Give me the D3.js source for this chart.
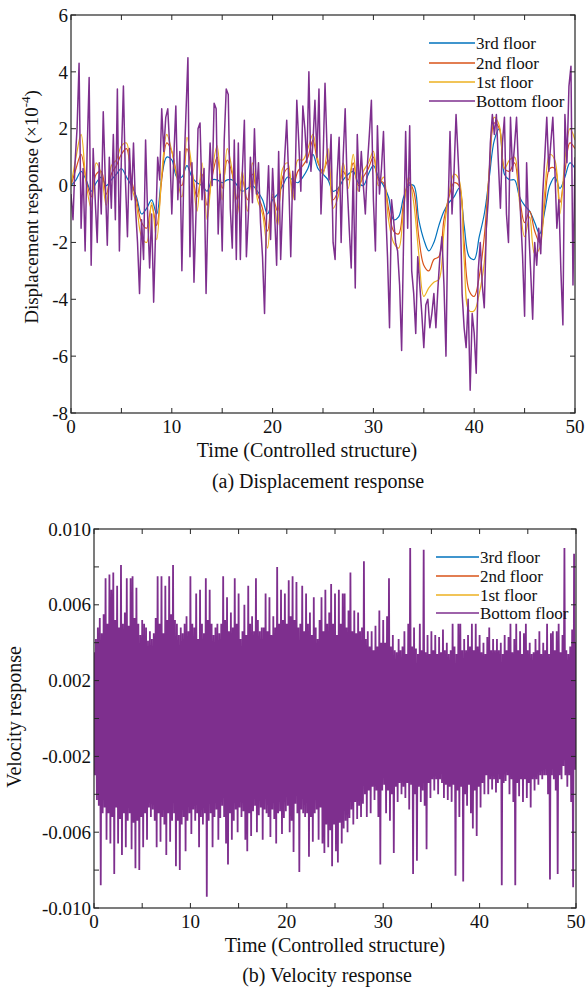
<!DOCTYPE html>
<html>
<head>
<meta charset="utf-8">
<script src="https://cdn.jsdelivr.net/npm/d3@7"></script>
<style>
  body { margin: 0; background: #fff; }
  svg { display: block; font-family: "Liberation Serif", "Times New Roman", serif; }
</style>
</head>
<body>
<svg id="fig" width="586" height="989"></svg>
<script>
// floors, legend order
var floorNames = ['3rd floor', '2nd floor', '1st floor', 'Bottom floor']
var floorColors = ['#0072BD', '#D95319', '#EDB120', '#7E2F8E']

// displacement, x1e-4, smooth floors sampled every 0.5 s
var disp3rd = [0.0,0.2,0.5,0.2,-0.2,0.1,0.3,0.0,0.2,0.4,0.6,0.3,0.0,-0.4,-1.0,-0.8,-0.5,-1.0,0.3,1.0,
  0.9,0.3,0.3,0.7,0.3,0.1,0.0,-0.2,0.2,0.2,0.1,0.2,0.2,0.0,-0.2,-0.1,0.0,-0.2,-0.5,-1.0,
  -0.5,-0.3,0.0,0.3,0.2,0.1,0.3,0.6,1.1,0.6,0.4,0.2,-0.2,-0.1,0.2,0.4,0.5,0.1,0.0,0.4,
  0.7,0.3,0.0,-0.4,-1.2,-1.1,-0.4,0.0,0.0,-1.2,-1.9,-2.3,-2.0,-1.4,-0.9,-0.6,-0.4,-0.1,-1.4,-2.5,
  -2.6,-1.8,-1.0,0.3,1.6,2.0,0.4,0.2,0.2,-0.4,-0.7,-0.9,-1.3,-1.7,-0.9,0.0,0.3,-0.1,0.3,0.8,0.6]
var disp2nd = [0.0,0.6,1.1,0.2,-0.4,0.4,0.5,-0.3,0.4,0.7,1.1,1.3,0.2,-0.5,-1.3,-1.5,-0.7,-1.4,0.2,1.5,
  1.2,0.4,0.0,1.3,0.5,-0.4,0.4,-0.7,0.3,1.0,-0.1,0.9,0.4,-0.5,0.2,-0.5,0.4,-0.3,-0.8,-1.6,
  -0.4,-0.9,0.3,0.6,-0.1,0.5,0.7,1.0,1.6,0.8,0.5,0.9,-0.5,-0.2,0.5,0.2,0.8,0.0,0.3,0.6,
  1.0,0.2,0.1,-0.8,-1.6,-1.7,-0.6,0.1,-0.2,-1.8,-2.8,-3.0,-2.6,-2.5,-1.2,-0.4,0.1,0.0,-2.0,-3.7,
  -3.9,-3.2,-1.8,0.5,2.2,2.0,0.6,0.5,0.8,-0.4,-1.3,-0.9,-1.6,-2.0,-0.6,0.6,0.6,-0.6,0.5,1.5,1.3]
var disp1st = [0.0,1.0,1.8,0.1,-0.8,0.8,0.4,-0.7,0.7,0.9,1.4,1.5,0.0,-0.7,-1.8,-2.0,-0.6,-1.9,0.4,1.8,
  1.2,0.3,-0.4,1.7,0.6,-0.9,0.8,-1.2,0.5,1.4,-0.5,1.3,0.5,-1.0,0.5,-0.9,0.8,-0.5,-1.0,-2.2,
  -0.3,-1.4,0.6,0.8,-0.5,0.9,0.9,1.3,1.8,0.9,0.4,1.3,-0.8,-0.4,0.8,-0.1,1.1,-0.2,0.5,0.8,
  1.2,0.0,0.3,-1.2,-2.0,-2.2,-0.8,0.3,-0.6,-2.4,-3.9,-3.6,-3.4,-3.3,-1.6,-0.3,0.4,0.2,-2.6,-4.4,
  -4.4,-3.8,-2.7,0.6,2.4,2.1,0.6,0.9,1.0,-0.6,-1.8,-1.1,-2.4,-2.2,-0.2,1.1,0.9,-1.0,0.9,2.0,1.6]

// bottom floor displacement, sampled every 0.2 s
var dispBottom = [
  -0.3,-1.2,0.8,2.0,4.3,-1.5,0.6,-2.3,1.2,3.8,     // 0 - 1.8
  -2.8,1.3,-0.5,-2.0,0.8,-1.0,2.6,0.2,-2.1,1.0,    // 2 - 3.8
  -0.8,1.8,-1.2,3.4,-2.3,1.0,3.5,0.2,-1.8,1.3,     // 4 - 5.8
  -0.5,1.5,-0.8,-2.0,-3.8,-1.2,-2.6,1.6,-1.0,-2.9, // 6 - 7.8
  -1.0,-4.1,-1.5,1.0,0.2,2.7,1.2,2.4,2.7,1.3,      // 8 - 9.8
  -1.0,1.0,2.8,-0.5,1.2,-3.0,0.5,2.5,4.5,-2.5,     // 10 - 11.8
  0.8,-3.4,-1.0,2.0,2.2,-0.5,0.6,-3.8,-0.6,1.5,    // 12 - 13.8
  0.0,2.9,2.7,-1.7,0.4,-2.3,1.6,3.4,3.2,-0.8,      // 14 - 15.8
  -2.2,1.6,-2.6,1.5,-2.6,0.5,2.3,-2.5,-1.0,1.0,    // 16 - 17.8
  -0.6,2.0,-0.3,0.8,-1.3,-2.5,-4.5,-1.0,0.7,-1.9,  // 18 - 19.8
  0.6,-1.0,-2.8,1.2,-2.6,-0.6,1.0,2.3,0.2,-2.5,    // 20 - 21.8
  0.5,-0.5,3.0,1.5,-0.2,2.8,2.0,0.8,4.0,0.5,       // 22 - 23.8
  1.5,3.0,1.0,3.4,-1.0,0.8,3.6,1.3,0.2,1.8,        // 24 - 25.8
  -2.0,-2.6,0.3,1.7,-2.0,1.0,2.7,0.0,-1.5,-2.9,    // 26 - 27.8
  0.6,-3.6,1.8,-0.2,1.2,0.0,-1.0,0.7,1.8,3.0,      // 28 - 29.8
  -0.5,-2.3,2.1,-0.3,0.6,1.9,-0.7,-2.5,-5.0,-0.5,  // 30 - 31.8
  -1.2,-2.0,-2.3,-3.5,-5.8,-1.8,1.9,-1.5,2.1,-3.0, // 32 - 33.8
  -3.8,-5.2,-2.5,-3.5,-4.5,-5.7,-4.2,-4.0,-5.0,-4.5, // 34 - 35.8
  -3.8,-5.0,-3.6,-2.5,-1.8,-3.5,-6.0,-1.0,1.9,-1.0,  // 36 - 37.8
  0.5,2.5,1.0,-0.5,-3.8,-5.0,-5.7,-4.0,-7.2,-4.5,    // 38 - 39.8
  -5.2,-6.6,-3.0,-2.0,-3.5,-4.3,-1.5,-0.5,1.5,2.5,   // 40 - 41.8
  1.8,2.5,0.8,-0.8,1.5,2.4,-1.0,-2.0,2.4,0.5,        // 42 - 43.8
  1.4,2.4,0.5,-1.0,-2.5,-4.6,0.8,-1.5,-3.0,-4.7,     // 44 - 45.8
  -2.0,-2.8,-1.5,-2.4,-0.3,1.0,2.4,0.5,1.5,2.4,      // 46 - 47.8
  0.6,-1.5,-0.5,-3.0,-4.9,2.5,0.8,3.5,4.2,-3.5,      // 48 - 49.8
  1.0]

// velocity, x1e-3: bottom floor crests every 0.2 s from 0, troughs every 0.2 s from 0.1
var velCrests = [
  3.5,4.2,4.8,5.3,4.5,5.5,7.4,5.0,7.6,6.8,
  7.7,5.2,7.0,4.8,8.1,5.0,5.6,7.4,4.9,7.4,
  7.5,5.3,6.9,5.0,4.4,5.2,5.0,4.8,4.1,4.6,
  4.2,4.5,5.3,7.5,5.0,7.5,4.5,7.0,5.2,7.5,
  5.5,8.1,5.2,5.0,4.4,4.8,4.5,5.0,5.4,4.6,
  7.5,5.0,4.8,6.6,4.2,6.8,5.0,4.5,7.4,5.2,
  6.8,5.0,4.4,4.8,5.0,4.5,5.0,7.5,5.2,6.4,
  4.6,5.6,4.8,7.4,5.0,6.6,4.2,4.6,6.0,4.4,
  7.0,5.0,5.4,4.6,7.4,5.2,4.6,4.8,4.8,6.6,
  4.6,6.4,4.4,5.4,4.8,8.0,5.0,6.8,5.2,6.6,
  5.0,7.3,5.4,7.5,5.2,7.2,4.8,5.0,7.0,4.6,
  6.6,5.0,5.6,4.4,6.4,4.8,4.2,5.2,6.4,4.6,
  6.8,5.0,5.6,7.1,5.0,6.6,4.4,6.8,5.0,6.6,
  6.6,4.8,5.7,7.7,4.6,5.7,4.5,5.6,4.6,4.8,
  8.3,4.2,4.6,3.8,4.6,3.6,4.9,3.8,5.7,4.0,
  5.2,4.0,5.4,7.4,3.8,4.4,3.6,3.5,4.2,3.6,
  3.8,4.6,3.4,5.0,9.0,3.8,4.8,3.7,3.4,5.0,
  3.6,8.9,3.5,4.4,3.4,4.6,3.6,4.4,3.4,4.3,
  3.5,4.7,3.6,4.0,3.4,3.6,5.0,3.8,3.4,5.0,
  5.0,3.6,4.2,3.6,4.4,3.8,5.0,3.6,5.0,3.8,
  4.4,3.5,4.0,3.4,4.3,4.8,3.6,4.2,3.6,4.2,
  3.6,4.0,3.4,4.4,3.6,4.3,5.0,3.5,4.2,5.0,
  3.6,4.6,3.4,4.5,5.0,3.6,4.0,3.4,3.5,4.2,
  3.6,4.6,3.4,4.0,3.6,5.0,3.4,4.5,4.6,3.6,
  4.6,5.0,3.5,4.4,9.0,3.6,3.4,3.8,4.7,8.7,
  4.0]
var velTroughs = [
  -3.0,-4.3,-4.6,-8.8,-5.0,-4.7,-6.4,-5.0,-6.6,-5.2,
  -8.2,-4.7,-6.6,-5.3,-7.2,-5.0,-6.8,-5.4,-5.0,-6.9,
  -5.5,-7.9,-5.4,-8.0,-5.2,-6.8,-5.0,-6.4,-4.7,-5.2,
  -4.8,-5.4,-6.8,-5.0,-6.5,-5.2,-5.6,-7.2,-5.0,-6.5,
  -5.4,-5.0,-7.8,-5.4,-8.0,-5.6,-5.2,-7.0,-5.4,-5.0,
  -6.1,-4.8,-5.4,-5.0,-6.8,-5.2,-5.6,-5.0,-9.4,-5.4,
  -5.0,-6.8,-5.2,-4.8,-6.4,-5.25,-4.6,-5.2,-6.6,-7.7,
  -5.0,-6.4,-5.4,-4.8,-6.0,-4.7,-5.2,-4.9,-6.4,-7.0,
  -5.0,-6.2,-4.9,-4.6,-6.0,-5.1,-4.7,-6.4,-4.8,-5.0,
  -5.2,-6.25,-4.8,-5.3,-6.6,-5.0,-4.9,-6.1,-5.25,-4.9,
  -4.6,-6.0,-5.4,-7.05,-4.5,-5.0,-8.1,-4.8,-5.0,-5.2,
  -5.0,-7.3,-5.2,-6.5,-5.0,-4.8,-6.4,-4.7,-6.6,-7.1,
  -5.6,-6.8,-5.9,-7.8,-5.6,-7.0,-7.6,-5.5,-6.6,-5.8,
  -5.4,-6.0,-5.25,-4.8,-5.6,-4.4,-5.3,-4.6,-5.2,-4.5,
  -4.0,-5.2,-3.8,-5.0,-3.6,-4.3,-3.8,-5.2,-7.7,-3.8,
  -3.5,-5.0,-3.8,-5.4,-4.0,-7.1,-3.6,-4.4,-3.4,-4.0,
  -3.6,-4.2,-3.4,-4.8,-3.5,-8.2,-4.0,-7.5,-3.6,-4.4,
  -3.8,-4.6,-6.9,-3.4,-4.2,-3.2,-3.8,-3.2,-4.0,-3.2,
  -3.4,-4.2,-3.5,-4.3,-3.6,-4.4,-3.5,-8.3,-3.8,-5.2,
  -3.6,-8.6,-4.0,-4.6,-3.5,-5.0,-5.8,-3.8,-6.2,-3.6,
  -4.7,-3.4,-4.0,-3.0,-4.0,-3.2,-3.75,-3.2,-3.9,-3.4,
  -3.2,-8.8,-3.4,-3.3,-3.0,-4.0,-3.2,-4.4,-8.8,-3.4,
  -4.1,-3.2,-4.4,-3.2,-4.2,-3.4,-4.7,-3.2,-3.8,-3.2,
  -3.5,-3.0,-3.2,-3.0,-3.0,-4.0,-8.5,-3.0,-3.2,-3.8,
  -8.2,-3.0,-3.2,-2.5,-3.0,-3.6,-3.0,-4.4,-8.9,-2.7]

var timeTicks = [0, 10, 20, 30, 40, 50]
var dispTicks = [6, 4, 2, 0, -2, -4, -6, -8]
var velTicks = [0.010, 0.006, 0.002, -0.002, -0.006, -0.010]

var svg = d3.select('#fig')
var axisColor = '#262626'
var hyph = s => s.replace('\u2212', '-')

d3.selection.prototype.at = function(o){
  Object.keys(o).forEach(k => this.attr(k.replace(/[A-Z]/g, m => '-' + m.toLowerCase()), o[k]))
  return this
}

function frame(g, x, y, yTickVals, yLabelVals, fmt){
  var [x0, x1] = x.range(), [y0, y1] = y.range()
  var tl = 5

  // inward ticks on all four sides
  d3.range(0, 50.1, 5).forEach(t => {
    g.append('line').at({x1: x(t), x2: x(t), y1: y0, y2: y0 - tl, stroke: axisColor})
    g.append('line').at({x1: x(t), x2: x(t), y1: y1, y2: y1 + tl, stroke: axisColor})
  })
  yTickVals.forEach(v => {
    g.append('line').at({x1: x0, x2: x0 + tl, y1: y(v), y2: y(v), stroke: axisColor})
    g.append('line').at({x1: x1, x2: x1 - tl, y1: y(v), y2: y(v), stroke: axisColor})
  })
  g.append('rect').at({x: x0, y: y1, width: x1 - x0, height: y0 - y1,
    fill: 'none', stroke: axisColor, strokeWidth: 1.2})

  g.selectAll('text.xt').data(timeTicks).enter().append('text')
    .at({x: d => x(d), y: y0 + 20, textAnchor: 'middle', fontSize: 19, fill: '#111'})
    .text(d => d)
  g.selectAll('text.yt').data(yLabelVals).enter().append('text')
    .at({x: x0 - 3, y: d => y(d), dy: '0.35em', textAnchor: 'end', fontSize: 19, fill: '#111'})
    .text(d => hyph(fmt(d)))
}

function legend(g, lx0, lx1, rows){
  floorNames.forEach((name, i) => {
    g.append('line').at({x1: lx0, x2: lx1, y1: rows[i], y2: rows[i], stroke: floorColors[i], strokeWidth: 1.3})
    g.append('text').at({x: lx1 + 1, y: rows[i], dy: '0.33em', fontSize: 17, fill: '#111'}).text(name)
  })
}

// ---- (a) displacement ----
var xA = d3.scaleLinear().domain([0, 50]).range([71, 575])
var yA = d3.scaleLinear().domain([-8, 6]).range([413, 15])
var gA = svg.append('g')
svg.append('clipPath').attr('id', 'clipA').append('rect').at({x: 71, y: 15, width: 504, height: 398})

var smooth = d3.line().x((d, i) => xA(i*0.5)).y(d => yA(d)).curve(d3.curveCatmullRom)
var rough = d3.line().x((d, i) => xA(i*0.2)).y(d => yA(d))
var plotA = gA.append('g').attr('clip-path', 'url(#clipA)')
;[disp3rd, disp2nd, disp1st].forEach((s, i) => {
  plotA.append('path').at({d: smooth(s), fill: 'none', stroke: floorColors[i], strokeWidth: 1.2})
})
plotA.append('path').at({d: rough(dispBottom), fill: 'none', stroke: floorColors[3], strokeWidth: 1.5, strokeLinejoin: 'round'})

frame(gA, xA, yA, dispTicks, dispTicks, d3.format('d'))
legend(gA, 429, 475, [43, 63, 82, 101])

var titleA = gA.append('text').at({transform: 'translate(38,207) rotate(-90)', textAnchor: 'middle', fontSize: 19, fill: '#111'})
titleA.append('tspan').text('Displacement response (×10')
titleA.append('tspan').at({dy: -8, fontSize: 13}).text('-4')
titleA.append('tspan').at({dy: 8}).text(')')

gA.append('text').at({x: 307, y: 457, textAnchor: 'middle', fontSize: 20, fill: '#111'}).text('Time (Controlled structure)')
gA.append('text').at({x: 318, y: 488, textAnchor: 'middle', fontSize: 20, fill: '#111'}).text('(a) Displacement response')

// ---- (b) velocity ----
var xB = d3.scaleLinear().domain([0, 50]).range([94, 576])
var yB = d3.scaleLinear().domain([-0.010, 0.010]).range([908, 529])
var gB = svg.append('g')
svg.append('clipPath').attr('id', 'clipB').append('rect').at({x: 94, y: 529, width: 482, height: 379})

var velPts = []
velCrests.forEach((v, i) => {
  velPts.push([i*0.2, v/1000])
  if (i < velTroughs.length) velPts.push([i*0.2 + 0.1, velTroughs[i]/1000])
})
var velLine = d3.line().x(d => xB(d[0])).y(d => yB(d[1]))
gB.append('g').attr('clip-path', 'url(#clipB)')
  .append('path').at({d: velLine(velPts), fill: 'none', stroke: floorColors[3], strokeWidth: 1.8})

frame(gB, xB, yB, d3.range(-0.010, 0.0101, 0.002), velTicks, d3.format('.3f'))
legend(gB, 436, 479, [557, 576, 595, 613])

gB.append('text').at({transform: 'translate(21,717) rotate(-90)', textAnchor: 'middle', fontSize: 20, fill: '#111'}).text('Velocity response')
gB.append('text').at({x: 335, y: 952, textAnchor: 'middle', fontSize: 20, fill: '#111'}).text('Time (Controlled structure)')
gB.append('text').at({x: 327, y: 982, textAnchor: 'middle', fontSize: 20, fill: '#111'}).text('(b) Velocity response')
</script>
</body>
</html>
